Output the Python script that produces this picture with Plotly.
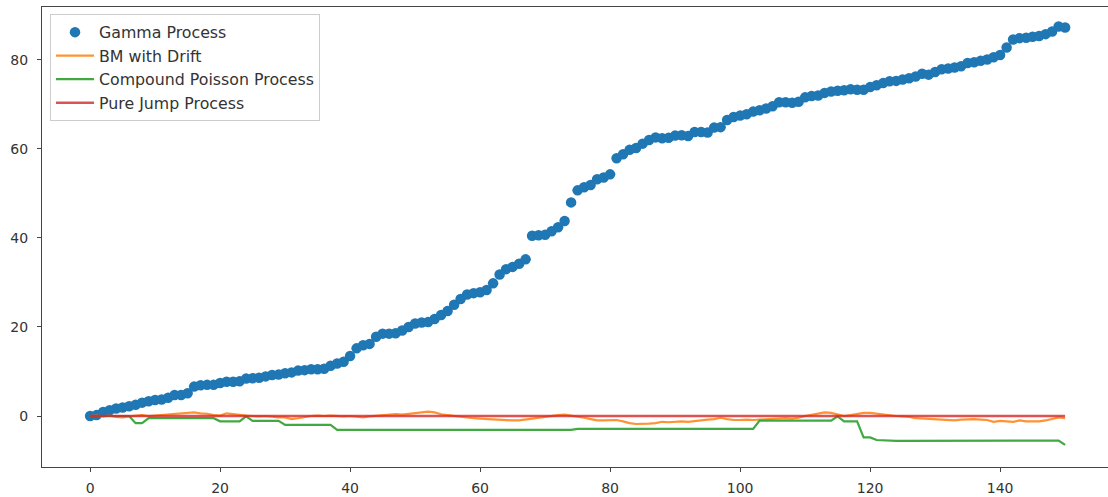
import plotly.graph_objects as go

t = list(range(151))

gamma = [
    0.0, 0.2, 0.9, 1.3, 1.7, 1.9, 2.2, 2.5, 3.0, 3.3,
    3.6, 3.7, 4.1, 4.7, 4.7, 5.1, 6.6, 6.9, 7.0, 7.0,
    7.4, 7.7, 7.7, 7.8, 8.4, 8.5, 8.6, 8.9, 9.2, 9.3,
    9.6, 9.8, 10.2, 10.3, 10.5, 10.5, 10.6, 11.3, 11.8, 12.2,
    13.5, 15.2, 15.9, 16.2, 17.8, 18.5, 18.5, 18.6, 19.2, 20.0,
    20.8, 21.0, 21.1, 21.8, 22.7, 23.6, 25.0, 26.3, 27.3, 27.6,
    27.8, 28.3, 29.8, 31.8, 33.0, 33.5, 34.2, 35.2, 40.5, 40.6,
    40.7, 41.5, 42.4, 43.8, 48.0, 50.7, 51.4, 51.9, 53.2, 53.6,
    54.3, 57.9, 58.8, 59.8, 60.2, 61.2, 62.0, 62.6, 62.4, 62.5,
    63.0, 63.1, 62.9, 63.8, 63.8, 63.7, 64.8, 64.9, 66.5, 67.2,
    67.5, 67.8, 68.4, 68.7, 69.1, 69.6, 70.5, 70.5, 70.4, 70.6,
    71.6, 71.9, 72.0, 72.6, 72.9, 73.1, 73.2, 73.4, 73.3, 73.3,
    73.9, 74.3, 74.8, 75.2, 75.3, 75.6, 75.9, 76.3, 76.9, 76.7,
    77.3, 77.9, 78.1, 78.3, 78.6, 79.3, 79.5, 79.8, 80.1, 80.6,
    81.1, 82.8, 84.6, 84.9, 85.0, 85.2, 85.4, 85.8, 86.4, 87.5,
    87.3,
]

bm_drift = [
    0.0, 0.1, -0.1, 0.1, -0.2, -0.3, -0.1, 0.1, 0.2, 0.0,
    0.1, 0.2, 0.3, 0.4, 0.5, 0.7, 0.8, 0.6, 0.5, 0.2,
    0.1, 0.6, 0.4, 0.3, 0.1, 0.0, -0.1, 0.0, -0.2, -0.3,
    -0.3, -0.7, -0.5, -0.2, 0.0, 0.1, 0.0, 0.1, 0.0, -0.1,
    0.0, -0.2, -0.3, -0.1, 0.0, 0.1, 0.2, 0.4, 0.3, 0.5,
    0.6, 0.9, 1.0, 0.8, 0.4, 0.2, 0.0, -0.2, -0.4, -0.5,
    -0.6, -0.7, -0.8, -0.9, -1.0, -1.0, -1.0, -0.8, -0.5, -0.4,
    -0.2, 0.0, 0.2, 0.3, 0.1, -0.2, -0.4, -0.7, -1.0, -1.0,
    -1.0, -0.9, -1.2, -1.6, -1.8, -1.8, -1.7, -1.6, -1.3, -1.4,
    -1.3, -1.2, -1.3, -1.1, -1.0, -0.8, -0.7, -0.4, -0.7, -0.9,
    -0.9, -0.8, -0.9, -0.8, -0.7, -0.6, -0.6, -0.5, -0.6, -0.4,
    0.0, 0.3, 0.5, 0.8, 0.7, 0.4, 0.0, 0.2, 0.4, 0.7,
    0.7, 0.5, 0.3, 0.1, 0.0, -0.1, -0.2, -0.5, -0.6, -0.7,
    -0.7, -0.9, -1.0, -1.0, -0.8, -0.7, -0.7, -0.8, -0.9, -1.3,
    -1.1, -1.2, -1.3, -1.0, -1.2, -1.2, -1.2, -1.0, -0.7, -0.3,
    -0.5,
]

compound_poisson = (
    [0.0] * 7 + [-1.6, -1.6] + [-0.5] * 11 + [-1.2] * 4 + [-0.1] + [-1.1] * 5
    + [-2.0] * 8 + [-3.1] * 37 + [-2.9] * 28 + [-1.05] * 12 + [-0.1]
    + [-1.2] * 3 + [-4.8, -4.8, -5.4, -5.5] + [-5.6] * 7 + [-5.5] * 20 + [-6.5]
)

pure_jump = [0.0] * 151

x_ticks = [0, 20, 40, 60, 80, 100, 120, 140]
y_ticks = [0, 20, 40, 60, 80]

fig = go.Figure()
fig.add_trace(go.Scatter(
    x=t, y=gamma, mode="markers", name="Gamma Process", legendgroup="a",
    marker=dict(color="#1f77b4", size=10.5, line=dict(width=0)),
))
fig.add_trace(go.Scatter(
    x=t, y=bm_drift, mode="lines", name="BM with Drift", legendgroup="b",
    line=dict(color="rgba(255,127,14,0.85)", width=2.2),
))
fig.add_trace(go.Scatter(
    x=t, y=compound_poisson, mode="lines", name="Compound Poisson Process", legendgroup="c",
    line=dict(color="rgba(44,160,44,0.9)", width=2.2),
))
fig.add_trace(go.Scatter(
    x=t, y=pure_jump, mode="lines", name="Pure Jump Process", legendgroup="d",
    line=dict(color="rgba(214,39,40,0.8)", width=2.6),
))

axis_common = dict(
    showgrid=False, zeroline=False, showline=True, linecolor="#444", linewidth=1,
    ticks="outside", ticklen=4, tickwidth=1, tickcolor="#444",
    tickfont=dict(family="DejaVu Sans", size=14, color="#333"),
    automargin=False,
)

fig.update_layout(
    width=1108, height=497,
    margin=dict(l=42, r=0, t=7, b=30),
    paper_bgcolor="white", plot_bgcolor="white",
    xaxis=dict(range=[-7.4, 156.6], tickvals=x_ticks, mirror=True, ticklabelstandoff=4, **axis_common),
    yaxis=dict(range=[-11.46, 91.9], tickvals=y_ticks, ticklabelstandoff=6, **axis_common),
    legend=dict(
        x=0.0075, y=0.984, xanchor="left", yanchor="top",
        bgcolor="rgba(255,255,255,0.8)", bordercolor="#cccccc", borderwidth=1,
        font=dict(family="DejaVu Sans", size=15.8, color="#333"),
        tracegroupgap=0, itemwidth=38,
    ),
    showlegend=True,
)

fig.write_html(
    "out.html",
    config={"displayModeBar": False},
    post_script="document.body.style.margin='0';document.body.style.padding='0';",
)
